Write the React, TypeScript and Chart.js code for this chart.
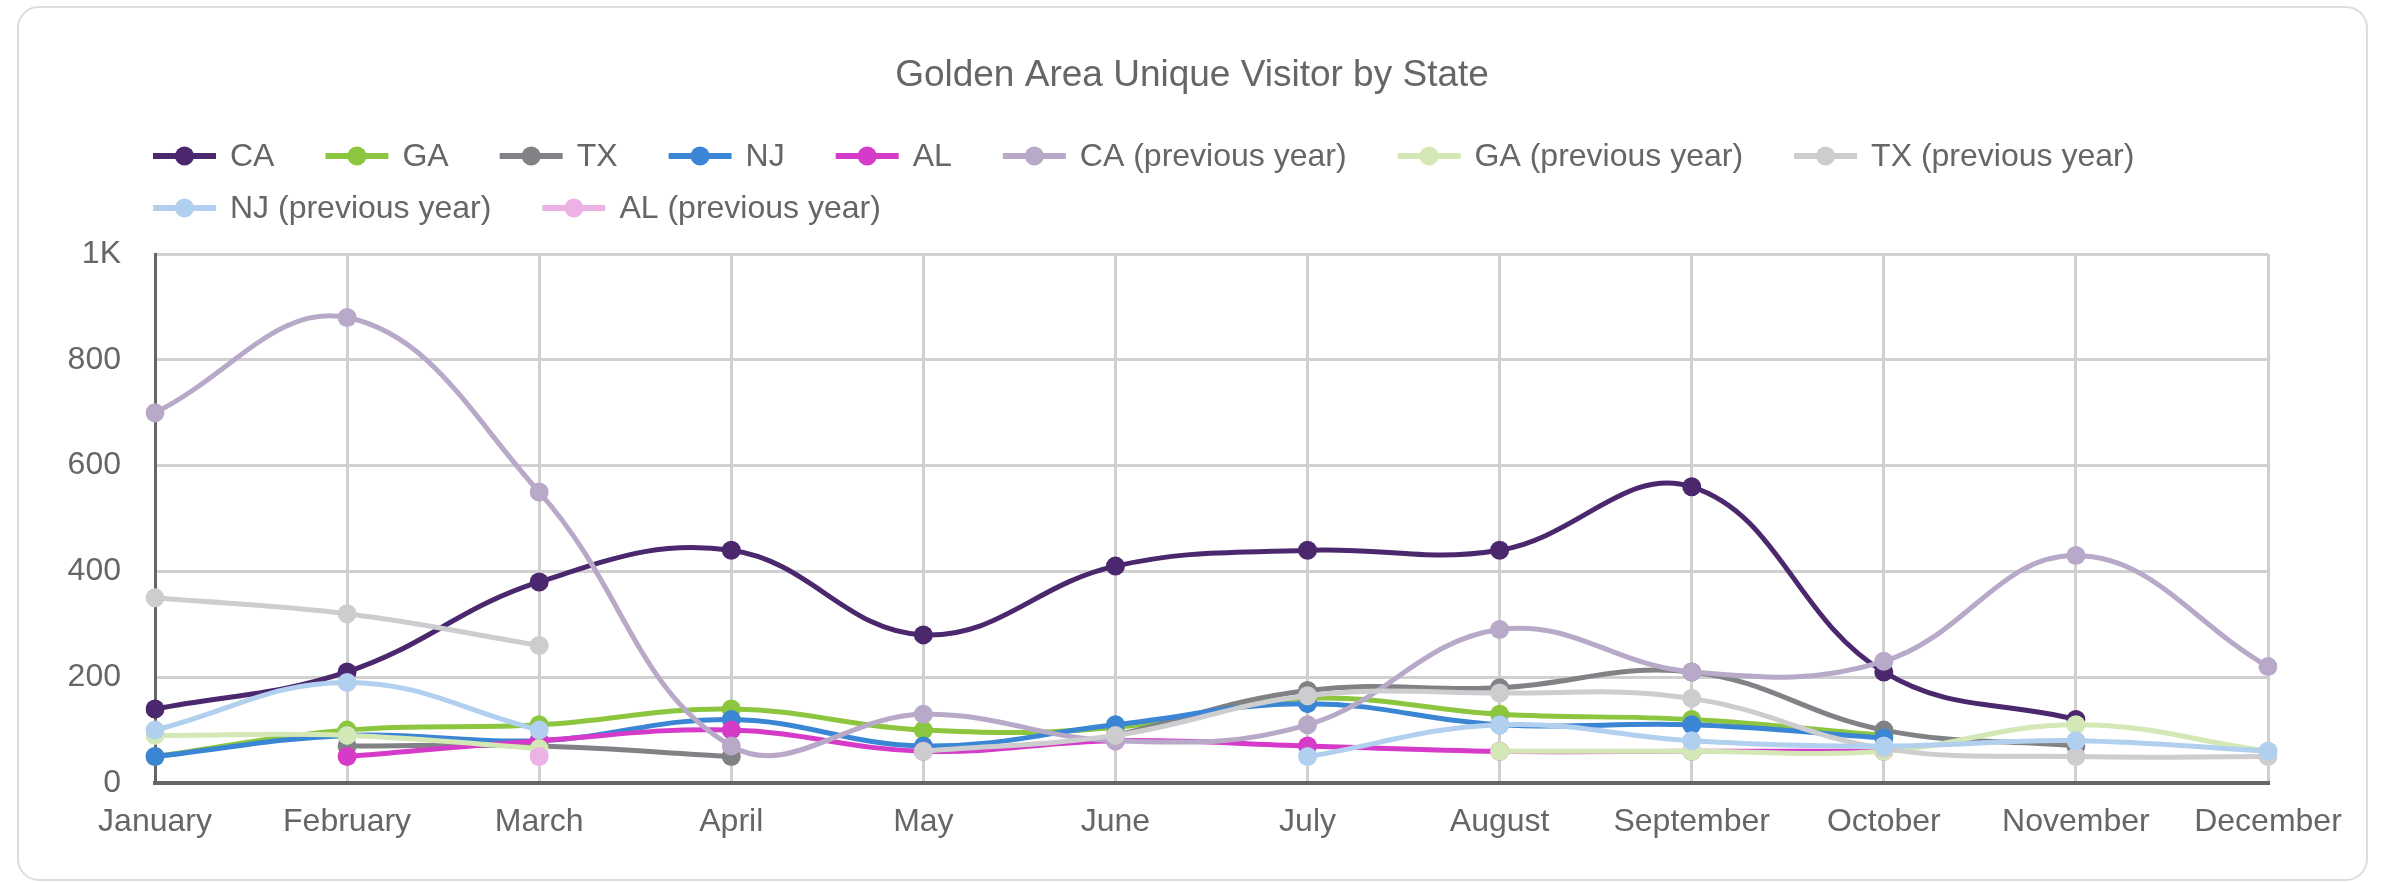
import React, { useEffect, useRef } from "react";
import { Chart, registerables } from "chart.js";

Chart.register(...registerables);

// ---------- data ----------
const chartTitle = "Golden Area Unique Visitor by State";
const months = [
  "January", "February", "March", "April", "May", "June",
  "July", "August", "September", "October", "November", "December",
];
const caValues = [140, 210, 380, 440, 280, 410, 440, 440, 560, 210, 120, null];
const gaValues = [50, 100, 110, 140, 100, 105, 160, 130, 120, 90, null, null];
const txValues = [null, 70, 70, 50, null, 90, 175, 180, 210, 100, 70, null];
const njValues = [50, 90, 80, 120, 70, 110, 150, 110, 110, 85, null, null];
const alValues = [null, 50, 80, 100, 60, 80, 70, 60, 60, 60, null, null];
const caPrevValues = [700, 880, 550, 70, 130, 80, 110, 290, 210, 230, 430, 220];
const gaPrevValues = [90, 90, 65, null, null, null, null, 60, 60, 60, 110, 60];
const txPrevValues = [350, 320, 260, null, 60, 90, 165, 170, 160, 65, 50, 50];
const njPrevValues = [100, 190, 100, null, null, null, 50, 110, 80, 70, 80, 60];
const alPrevValues = [null, null, 50, null, null, null, null, null, null, null, null, null];

const seriesNames = [
  "CA", "GA", "TX", "NJ", "AL",
  "CA (previous year)", "GA (previous year)", "TX (previous year)",
  "NJ (previous year)", "AL (previous year)",
];
const seriesValues = [
  caValues, gaValues, txValues, njValues, alValues,
  caPrevValues, gaPrevValues, txPrevValues, njPrevValues, alPrevValues,
];
const seriesColors = [
  "#4b286d", "#8cc63f", "#808285", "#3a86d4", "#d53ac9",
  "#b8a9c8", "#d3e8b5", "#cdcdcf", "#b1cfee", "#ecb2e6",
];
const yTickValues = [0, 200, 400, 600, 800, 1000];
const yTickLabels = ["0", "200", "400", "600", "800", "1K"];

// ---------- layout ----------
const W = 2386;
const H = 883;
const FONT = '"Liberation Sans", Arial, Helvetica, sans-serif';
const TEXT_COLOR = "#666666";

const headerPlugin = {
  id: "headerLegend",
  afterDraw(chart: any) {
    const ctx = chart.ctx as CanvasRenderingContext2D;
    ctx.save();
    // title
    ctx.fillStyle = TEXT_COLOR;
    ctx.font = `37px ${FONT}`;
    ctx.textAlign = "center";
    ctx.textBaseline = "middle";
    ctx.fillText(chartTitle, 1192, 76);

    // legend
    ctx.font = `32px ${FONT}`;
    ctx.textAlign = "left";
    const startX = 153;
    const maxX = 2330;
    const markerW = 63;
    const gapText = 14;
    const gapItem = 51;
    let x = startX;
    let y = 156;
    seriesNames.forEach((name, i) => {
      const tw = ctx.measureText(name).width;
      const itemW = markerW + gapText + tw;
      if (x + itemW > maxX && x > startX) {
        x = startX;
        y += 52;
      }
      ctx.strokeStyle = seriesColors[i];
      ctx.lineWidth = 6;
      ctx.beginPath();
      ctx.moveTo(x, y);
      ctx.lineTo(x + markerW, y);
      ctx.stroke();
      ctx.fillStyle = seriesColors[i];
      ctx.beginPath();
      ctx.arc(x + markerW / 2, y, 9.5, 0, Math.PI * 2);
      ctx.fill();
      ctx.fillStyle = TEXT_COLOR;
      ctx.fillText(name, x + markerW + gapText, y + 1);
      x += itemW + gapItem;
    });
    ctx.restore();
  },
};

export default function App() {
  const canvasRef = useRef<HTMLCanvasElement | null>(null);

  useEffect(() => {
    if (!canvasRef.current) return;
    Chart.defaults.font.family = FONT;
    Chart.defaults.color = TEXT_COLOR;

    const datasets = seriesNames.map((name, i) => ({
      label: name,
      data: seriesValues[i],
      borderColor: seriesColors[i],
      backgroundColor: seriesColors[i],
      pointBackgroundColor: seriesColors[i],
      pointBorderColor: seriesColors[i],
      pointBorderWidth: 0,
      pointRadius: 9.5,
      pointHoverRadius: 9.5,
      borderWidth: 5,
      tension: 0.4,
      fill: false,
      spanGaps: false,
      order: -i,
    }));

    const chart = new Chart(canvasRef.current, {
      type: "line",
      data: { labels: months, datasets },
      options: {
        responsive: false,
        animation: false,
        layout: { padding: { top: 254, left: 0, right: W - 2268, bottom: 40 } },
        plugins: {
          legend: { display: false },
          title: { display: false },
          tooltip: { enabled: false },
        },
        scales: {
          x: {
            type: "category",
            offset: false,
            grid: { color: "#d0d0d0", lineWidth: 3, drawTicks: false },
            border: { color: "#666666", width: 4 },
            ticks: {
              color: TEXT_COLOR,
              font: { size: 32 },
              padding: 20,
              maxRotation: 0,
              autoSkip: false,
            },
            afterFit: (scale: any) => {
              scale.height = H - 40 - 783;
            },
          },
          y: {
            min: 0,
            max: 1000,
            grid: { color: "#d0d0d0", lineWidth: 3, drawTicks: false },
            border: { color: "#666666", width: 3 },
            afterBuildTicks: (scale: any) => {
              scale.ticks = yTickValues.map((v) => ({ value: v }));
            },
            ticks: {
              color: TEXT_COLOR,
              font: { size: 32 },
              padding: 34,
              callback: (v: any) => {
                const idx = yTickValues.indexOf(Number(v));
                return idx >= 0 ? yTickLabels[idx] : "";
              },
            },
            afterFit: (scale: any) => {
              scale.width = 155;
            },
          },
        },
      },
      plugins: [headerPlugin],
    });
    return () => chart.destroy();
  }, []);

  return (
    <div>
      <div
        style={{
          position: "absolute",
          left: 17,
          top: 6,
          width: 2351,
          height: 875,
          border: "2px solid #dddddd",
          borderRadius: 22,
          boxSizing: "border-box",
          background: "#ffffff",
        }}
      />
      <canvas
        ref={canvasRef}
        width={W}
        height={H}
        style={{ position: "absolute", left: 0, top: 0, width: W, height: H, display: "block" }}
      />
    </div>
  );
}
